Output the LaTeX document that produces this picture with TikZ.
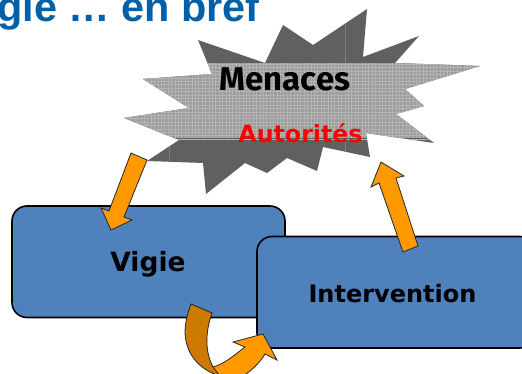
\documentclass[tikz,border=0pt]{standalone}
\usepackage{fontspec}
\setmainfont{DejaVu Sans}
\newfontfamily\titlefont{Liberation Sans}
\newfontfamily\handfont{Fira Sans}
\definecolor{boxblue}{HTML}{4F81BD}
\definecolor{arroworange}{HTML}{FF9900}
\definecolor{arrowdark}{HTML}{CC7A00}
\definecolor{titleblue}{HTML}{0060A8}
\definecolor{stardark}{HTML}{606060}
\definecolor{starlight}{HTML}{9C9C9C}
\definecolor{stargrid}{HTML}{B4B4B4}
\tikzset{
  boxnode/.style={draw=black,line width=1.6pt,fill=boxblue,rounded corners=15pt},
  blockarrow/.style={draw=black!85,line width=.8pt,fill=arroworange,line join=miter},
  darkarrow/.style={draw=black!85,line width=.8pt,fill=arrowdark,line join=miter},
  boxlabel/.style={font=\bfseries\fontsize{24}{24}\selectfont,text=black}
}
\begin{document}
\begin{tikzpicture}[x=1pt,y=-1pt]
\useasboundingbox (0,0) rectangle (522,374);
\clip (0,0) rectangle (522,374);
\fill[white] (0,0) rectangle (522,374);
% title
\node[anchor=base east,inner sep=0pt,text=titleblue,font=\titlefont\bfseries\fontsize{41.4}{41.4}\selectfont] (title) at (260,21.5) {gie … en bref};
% star
\def\starpath{(367,9) -- (363,57) -- (419,36) -- (395,63) -- (480,66) -- (405,89) -- (424,106) -- (396,114) -- (434,143) -- (366,133) -- (370,157) -- (323,147) -- (317,171) -- (287,158) -- (267,173) -- (245,163) -- (206,194) -- (203,163) -- (147,161) -- (179,140) -- (124,118) -- (189,108) -- (143,79) -- (212,74) -- (198,40) -- (265,63) -- (283,25) -- (313,45) -- cycle}
\begin{scope}
\clip \starpath;
\fill[stardark] (120,0) rectangle (490,200);
\fill[starlight] (120,63.5) rectangle (490,138.5);
\foreach \gx in {0,...,108}{
  \draw[stargrid,line width=.9pt] ({124+\gx*3.4},63.5) -- ({124+\gx*3.4},138.5);
}
\foreach \gy in {0,...,22}{
  \draw[stargrid,line width=.9pt] (120,{64.5+\gy*3.4}) -- (490,{64.5+\gy*3.4});
}
\draw[black!50,line width=.5pt] (345,0) -- (345,63) (345,139) -- (345,200) (169,139) -- (169,200);
\end{scope}
\node[inner sep=0pt,text=black,font=\handfont\bfseries\fontsize{33}{33}\selectfont] (menaces) at (285,79) {Menaces};
\node[inner sep=0pt,text=red,font=\bfseries\fontsize{23.7}{23.7}\selectfont] (autorites) at (300.5,133) {Autorités};
% boxes
\draw[boxnode] (12,206) rectangle (285,317.5);
\node[inner sep=0pt,text=black,font=\bfseries\fontsize{26.5}{26.5}\selectfont] (vigie) at (148,264) {Vigie};
\draw[boxnode] (257,236.5) rectangle (535,348);
\node[boxlabel,inner sep=0pt] (intervention) at (392.5,293.5) {Intervention};
% arrows
\draw[blockarrow] (131,153) -- (147,160) -- (124,217) -- (132,220) -- (111,230) -- (101,208) -- (109,211) -- cycle;
\draw[blockarrow] (381,162) -- (404,176) -- (396,178) -- (418,246) -- (403,252) -- (379,183) -- (371,187) -- cycle;
% curved arrow
\draw[blockarrow] (213,367) .. controls (224,364) and (232,357) .. (245,347) -- (233,342) -- (263,334) -- (277,360) -- (265,354) .. controls (259,364) and (250,372) .. (240,378) -- (218,378) -- cycle;
\draw[darkarrow] (191,304) -- (212,313) .. controls (206,330) and (204,350) .. (213,367) -- (220,376) .. controls (200,370) and (186,355) .. (185,333) .. controls (185,322) and (188,312) .. (191,304) -- cycle;
\end{tikzpicture}
\end{document}
